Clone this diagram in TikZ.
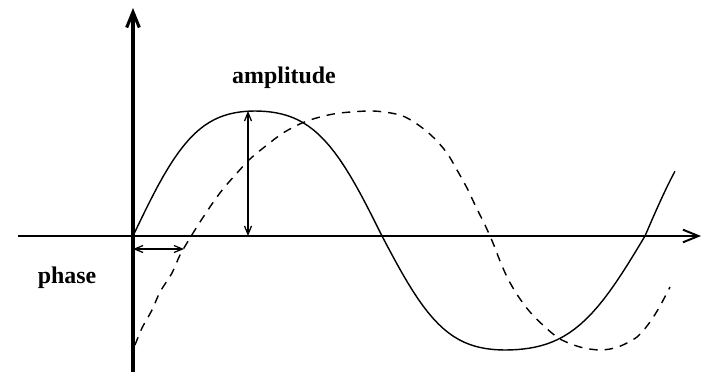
\documentclass[tikz,border=0pt]{standalone}
\usepackage{fontspec}
\setmainfont{Liberation Serif}
\usetikzlibrary{arrows.meta,positioning}
\tikzset{
  axis/.style={-{Straight Barb[length=11pt,width=9pt]}},
  wave/.style={line width=1pt},
  lagwave/.style={wave,dash pattern=on 6pt off 5pt},
  measure/.style={line width=0.9pt,{Straight Barb[length=6pt,width=5pt]}-{Straight Barb[length=6pt,width=5pt]}},
  txt/.style={font=\fontsize{17}{19}\selectfont\bfseries,anchor=base,inner sep=0pt},
  declare function={fw(\t)=(sin(\t)+0.07*sin(3*\t))/0.93;},
}

\begin{document}
\begin{tikzpicture}[x=0.025cm,y=-0.025cm]
  \useasboundingbox (0,0) rectangle (709,375);
  % axes
  \coordinate (O) at (133,236);
  \coordinate (ybot) at (133,372);
  \coordinate (ytop) at (133,8);
  \coordinate (xleft) at (18,236);
  \coordinate (xright) at (701,236);
  \draw[line width=2.2pt,axis] (ybot) -- (ytop);
  \draw[line width=1.4pt,axis] (xleft) -- (xright);
  % reference wave, one quarter at a time
  \draw[wave,samples=25]
    plot[domain=0:90] ({133+122*\x/90},{236-125*fw(\x)})
    -- plot[domain=90:180] ({255+127*(\x-90)/90},{236-125*fw(\x)})
    -- plot[domain=180:270] ({382+123*(\x-180)/90},{236-114*fw(\x)})
    -- plot[domain=270:360] ({505+140*(\x-270)/90},{236-114*fw(\x)})
    -- plot[domain=360:384.5,samples=8] ({645+110*(\x-360)/90},{236-125*fw(\x)});
  % shifted wave
  \draw[lagwave] plot[smooth] coordinates {(135,345) (142,328) (152,310) (160,292)
    (172,273) (180,255) (190,238) (200,222) (212,204) (223,189) (237,173)
    (250,159) (267,145) (283,133) (302,123) (320,117) (340,113) (373,111)
    (400,115) (417,124) (433,137) (447,153) (457,170) (467,188) (476,207)
    (485,225) (493,243) (500,261) (508,279) (518,296) (530,312) (545,327)
    (560,339) (580,347) (600,350) (618,347) (637,337) (650,322) (660,306)
    (670,287)};
  % amplitude
  \coordinate (peak) at (248,111);
  \coordinate (foot) at (248,236);
  \draw[measure] (foot) -- (peak);
  \node[txt] (amp) at (284,83) {amplitude};
  % phase
  \coordinate (ph0) at (133,249);
  \coordinate (ph1) at (184,249);
  \draw[measure] (ph0) -- (ph1);
  \node[txt] (phase) at (67,283) {phase};
\end{tikzpicture}
\end{document}
